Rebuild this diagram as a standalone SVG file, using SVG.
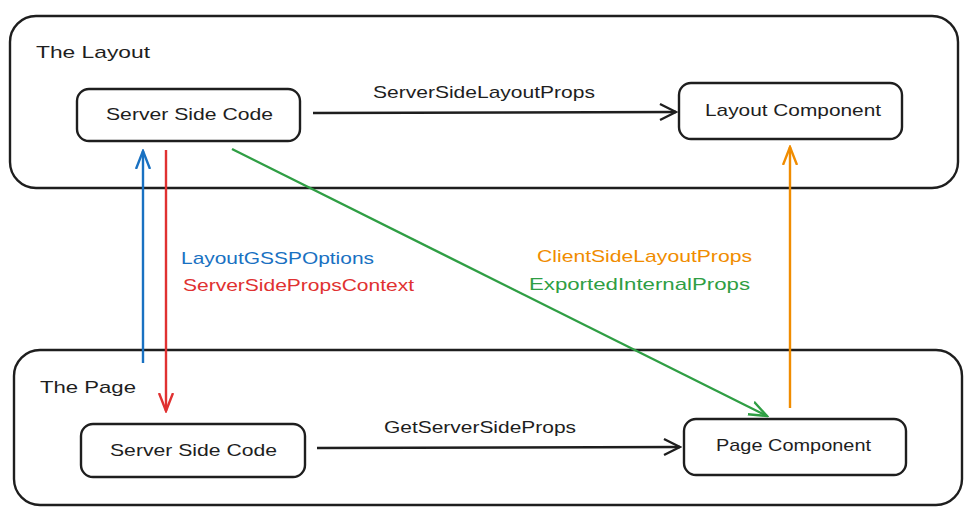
<svg xmlns="http://www.w3.org/2000/svg" width="980" height="524" viewBox="0 0 980 524">
<style>
.box{fill:#fff;stroke:#1e1e1e;stroke-width:2.4}
.t{font-family:"Liberation Sans",Arial,sans-serif;font-size:17px;fill:#1e1e1e}
.c{stroke-width:2.4;fill:none}
</style>
<defs>
<marker id="hk" viewBox="0 0 20 20" refX="18" refY="10" markerWidth="20" markerHeight="20" markerUnits="userSpaceOnUse" orient="auto"><path d="M2,2 L18,10 L2,18" fill="none" stroke="#1e1e1e" stroke-width="2.4"/></marker>
<marker id="hb" viewBox="0 0 20 20" refX="18" refY="10" markerWidth="20" markerHeight="20" markerUnits="userSpaceOnUse" orient="auto"><path d="M0,3 L18,10 L0,17" fill="none" stroke="#1971c2" stroke-width="2.4"/></marker>
<marker id="hr" viewBox="0 0 20 20" refX="18" refY="10" markerWidth="20" markerHeight="20" markerUnits="userSpaceOnUse" orient="auto"><path d="M0,3 L18,10 L0,17" fill="none" stroke="#e03131" stroke-width="2.4"/></marker>
<marker id="ho" viewBox="0 0 20 20" refX="18" refY="10" markerWidth="20" markerHeight="20" markerUnits="userSpaceOnUse" orient="auto"><path d="M0,3 L18,10 L0,17" fill="none" stroke="#f08c00" stroke-width="2.4"/></marker>
<marker id="hg" viewBox="0 0 20 20" refX="18" refY="10" markerWidth="20" markerHeight="20" markerUnits="userSpaceOnUse" orient="auto"><path d="M0,3 L18,10 L0,17" fill="none" stroke="#2f9e44" stroke-width="2.4"/></marker>
</defs>
<rect width="980" height="524" fill="#fff"/>
<g id="layout-group">
<rect class="box" x="10" y="16" width="948" height="172" rx="26"/>
<text class="t" x="36" y="58" textLength="114" lengthAdjust="spacingAndGlyphs">The Layout</text>
</g>
<g id="page-group">
<rect class="box" x="14" y="350" width="948" height="155" rx="26"/>
<text class="t" x="40" y="393" textLength="96" lengthAdjust="spacingAndGlyphs">The Page</text>
</g>
<g id="layout-ssc">
<rect class="box" x="77" y="89" width="223" height="52" rx="12"/>
<text class="t" x="106" y="120" textLength="167" lengthAdjust="spacingAndGlyphs">Server Side Code</text>
</g>
<g id="layout-component">
<rect class="box" x="679" y="83" width="223" height="56" rx="12"/>
<text class="t" x="705" y="116" textLength="176" lengthAdjust="spacingAndGlyphs">Layout Component</text>
</g>
<g id="page-ssc">
<rect class="box" x="81" y="424" width="224" height="53" rx="12"/>
<text class="t" x="110" y="456" textLength="167" lengthAdjust="spacingAndGlyphs">Server Side Code</text>
</g>
<g id="page-component">
<rect class="box" x="684" y="419" width="222" height="56" rx="12"/>
<text class="t" x="716" y="451" textLength="155" lengthAdjust="spacingAndGlyphs">Page Component</text>
</g>
<g id="connectors">
<line class="c" stroke="#1e1e1e" x1="313" y1="113" x2="676" y2="112" marker-end="url(#hk)"/>
<line class="c" stroke="#1e1e1e" x1="317" y1="448" x2="680" y2="447" marker-end="url(#hk)"/>
<line class="c" stroke="#1971c2" x1="143" y1="363" x2="143" y2="151" marker-end="url(#hb)"/>
<line class="c" stroke="#e03131" x1="166" y1="150" x2="166" y2="411" marker-end="url(#hr)"/>
<line class="c" stroke="#2f9e44" x1="232" y1="149" x2="767" y2="416" marker-end="url(#hg)"/>
<line class="c" stroke="#f08c00" x1="790" y1="408" x2="790" y2="147" marker-end="url(#ho)"/>
<text class="t" x="373" y="98" textLength="222" lengthAdjust="spacingAndGlyphs">ServerSideLayoutProps</text>
<text class="t" x="384" y="433" textLength="192" lengthAdjust="spacingAndGlyphs">GetServerSideProps</text>
<text class="t" x="181" y="264" style="fill:#1971c2" textLength="193" lengthAdjust="spacingAndGlyphs">LayoutGSSPOptions</text>
<text class="t" x="183" y="291" style="fill:#e03131" textLength="231" lengthAdjust="spacingAndGlyphs">ServerSidePropsContext</text>
<text class="t" x="537" y="262" style="fill:#f08c00" textLength="215" lengthAdjust="spacingAndGlyphs">ClientSideLayoutProps</text>
<text class="t" x="529" y="290" style="fill:#2f9e44" textLength="221" lengthAdjust="spacingAndGlyphs">ExportedInternalProps</text>
</g>
</svg>
